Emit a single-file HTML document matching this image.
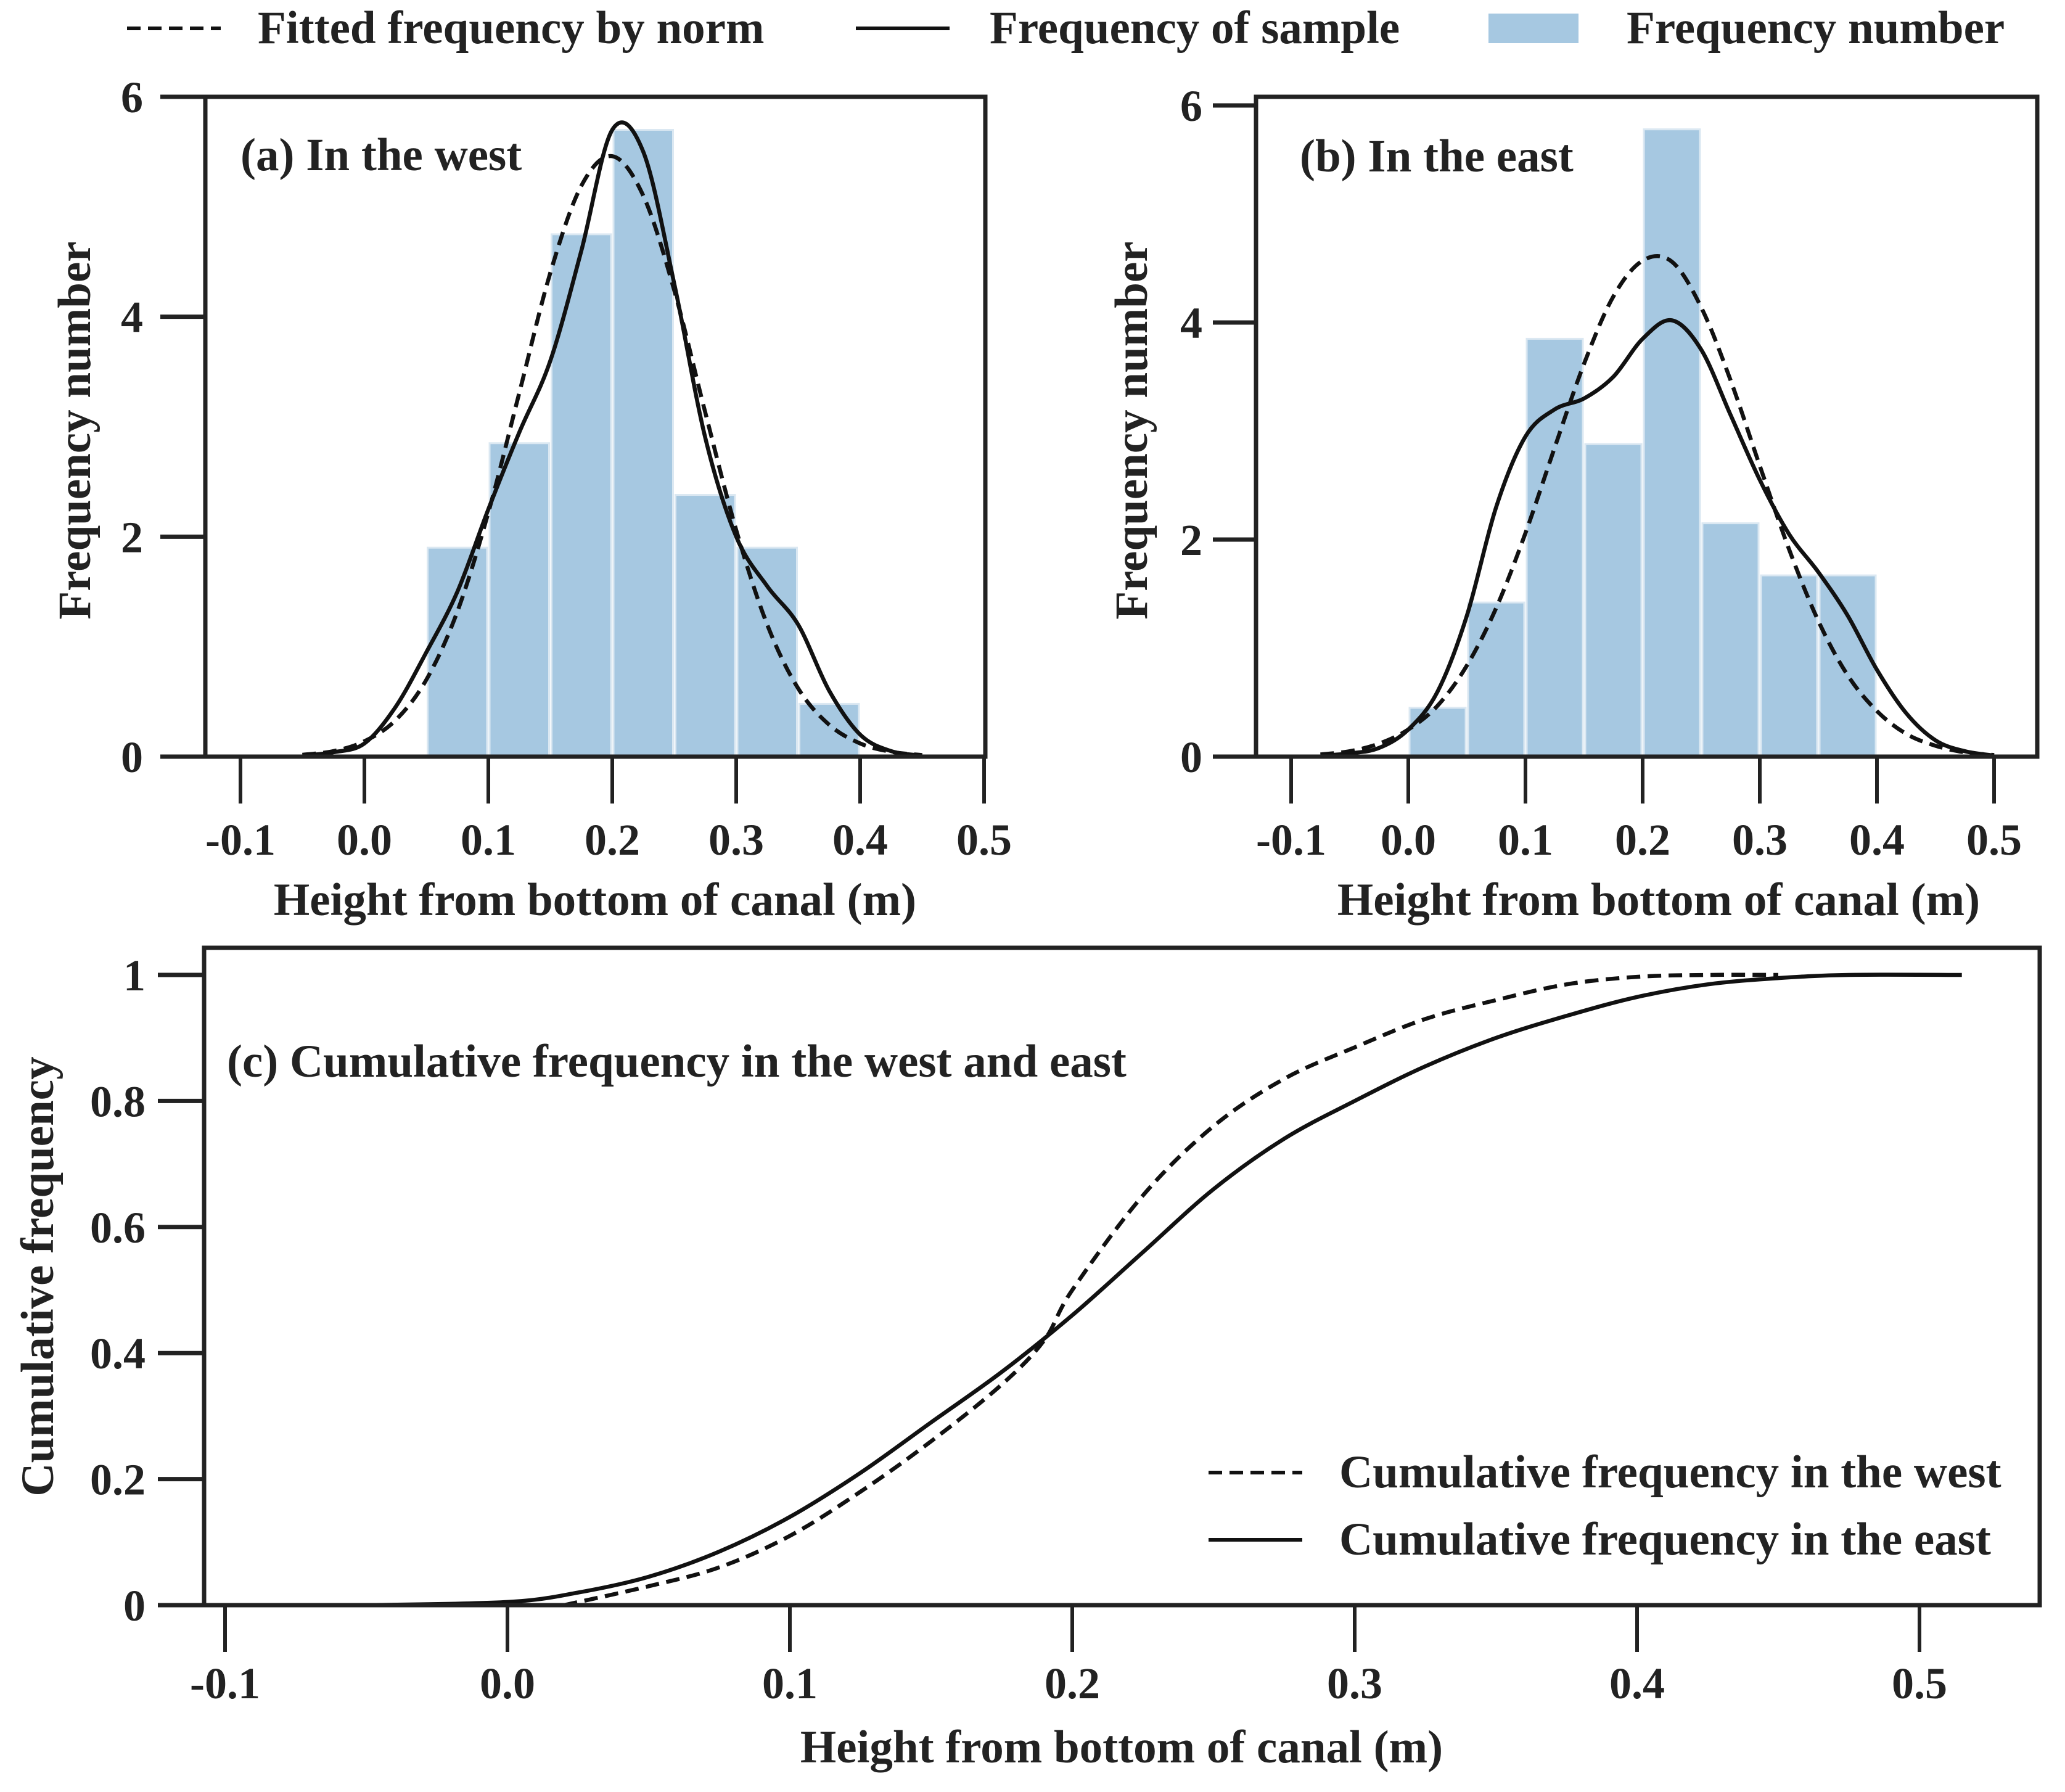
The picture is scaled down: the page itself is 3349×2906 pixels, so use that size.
<!DOCTYPE html>
<html><head><meta charset="utf-8">
<style>
html,body{margin:0;padding:0;background:#fff;}
svg{display:block;font-family:"Liberation Serif",serif;font-weight:bold;}
</style></head>
<body>
<svg id="chart" width="3349" height="2906" viewBox="0 0 3349 2906" xmlns="http://www.w3.org/2000/svg">
<g fill="#222" font-size="75">
  <line x1="206" y1="46" x2="358" y2="46" stroke="#111" stroke-width="6" stroke-dasharray="22,12"/>
  <text x="418" y="70">Fitted frequency by norm</text>
  <line x1="1388" y1="46" x2="1540" y2="46" stroke="#111" stroke-width="6"/>
  <text x="1605" y="70">Frequency of sample</text>
  <rect x="2414" y="22" width="146" height="48" fill="#a6c8e1"/>
  <text x="2638" y="70">Frequency number</text>
</g>
<g id="pa"></g>
<g id="pb"></g>
<g id="pc"></g>
</svg>
<script>
// ---- data ----
const binEdgesWest = [0.05,0.1,0.15,0.2,0.25,0.3,0.35,0.4];
const barsWest = [1.9,2.85,4.75,5.7,2.38,1.9,0.48];
const binEdgesEast = [0.0,0.05,0.1,0.15,0.2,0.25,0.3,0.35,0.4];
const barsEast = [0.45,1.42,3.85,2.88,5.78,2.15,1.67,1.67];

const fitWestX = [-0.05,-0.025,0,0.025,0.05,0.075,0.1,0.125,0.15,0.175,0.2,0.225,0.25,0.275,0.3,0.325,0.35,0.375,0.4,0.425,0.45];
const fitWestY = [0.017,0.05,0.14,0.33,0.7,1.32,2.22,3.31,4.4,5.19,5.46,5.1,4.24,3.13,2.06,1.2,0.62,0.29,0.12,0.044,0.014];
const kdeWestX = [-0.05,-0.025,0,0.025,0.05,0.075,0.1,0.125,0.15,0.175,0.2,0.225,0.25,0.275,0.3,0.325,0.35,0.375,0.4,0.425,0.45];
const kdeWestY = [0.01,0.04,0.12,0.45,0.95,1.5,2.25,2.95,3.6,4.6,5.7,5.5,4.3,2.9,2.0,1.55,1.2,0.6,0.2,0.05,0.01];

const fitEastX = [-0.075,-0.05,-0.025,0,0.025,0.05,0.075,0.1,0.125,0.15,0.175,0.2,0.225,0.25,0.275,0.3,0.325,0.35,0.375,0.4,0.425,0.45,0.475,0.5];
const fitEastY = [0.02,0.05,0.12,0.25,0.47,0.84,1.37,2.06,2.85,3.62,4.24,4.57,4.56,4.14,3.47,2.68,1.91,1.25,0.75,0.42,0.21,0.1,0.04,0.015];
const kdeEastX = [-0.075,-0.05,-0.025,0,0.025,0.05,0.075,0.1,0.125,0.15,0.175,0.2,0.225,0.25,0.275,0.3,0.325,0.35,0.375,0.4,0.425,0.45,0.475,0.5];
const kdeEastY = [0.01,0.03,0.08,0.25,0.6,1.3,2.3,2.95,3.2,3.3,3.5,3.85,4.02,3.75,3.15,2.55,2.05,1.7,1.3,0.8,0.4,0.15,0.05,0.01];

const cdfWestX = [0.02,0.05,0.075,0.1,0.125,0.15,0.175,0.19,0.2,0.225,0.25,0.275,0.3,0.325,0.35,0.375,0.4,0.425,0.45];
const cdfWestY = [0,0.03,0.06,0.11,0.18,0.26,0.35,0.42,0.5,0.65,0.76,0.835,0.885,0.93,0.96,0.985,0.997,1.0,1.0];
const cdfEastX = [-0.05,0,0.025,0.05,0.075,0.1,0.125,0.15,0.175,0.2,0.225,0.25,0.275,0.3,0.325,0.35,0.375,0.4,0.425,0.45,0.475,0.515];
const cdfEastY = [0,0.005,0.02,0.045,0.085,0.14,0.21,0.29,0.37,0.46,0.56,0.66,0.74,0.8,0.855,0.9,0.935,0.965,0.985,0.995,1.0,1.0];

const xTickVals = [-0.1,0.0,0.1,0.2,0.3,0.4,0.5];
const xTickLabels = ["-0.1","0.0","0.1","0.2","0.3","0.4","0.5"];
const histYTicks = [0,2,4,6];
const histYLabels = ["0","2","4","6"];
const cdfYTicks = [0,0.2,0.4,0.6,0.8,1];
const cdfYLabels = ["0","0.2","0.4","0.6","0.8","1"];

// ---- helpers ----
const NS = "http://www.w3.org/2000/svg";
function mk(parent, tag, attrs){
  const e = document.createElementNS(NS, tag);
  for (const k in attrs) e.setAttribute(k, attrs[k]);
  parent.appendChild(e);
  return e;
}
function linScale(d0,d1,r0,r1){ return v => r0 + (v-d0)/(d1-d0)*(r1-r0); }
function smoothPath(xs, ys, sx, sy){
  const p = xs.map((x,i)=>[sx(x), sy(ys[i])]);
  let d = "M"+p[0][0].toFixed(1)+","+p[0][1].toFixed(1);
  for (let i=0;i<p.length-1;i++){
    const p0=p[Math.max(0,i-1)], p1=p[i], p2=p[i+1], p3=p[Math.min(p.length-1,i+2)];
    const c1=[p1[0]+(p2[0]-p0[0])/6, p1[1]+(p2[1]-p0[1])/6];
    const c2=[p2[0]-(p3[0]-p1[0])/6, p2[1]-(p3[1]-p1[1])/6];
    d += " C"+c1[0].toFixed(1)+","+c1[1].toFixed(1)+" "+c2[0].toFixed(1)+","+c2[1].toFixed(1)+" "+p2[0].toFixed(1)+","+p2[1].toFixed(1);
  }
  return d;
}

function drawPanel(g, cfg){
  const sx = linScale(cfg.x0, cfg.x1, cfg.xa, cfg.xb);
  const sy = linScale(cfg.y0v, cfg.y1v, cfg.B, cfg.yTopTick);
  if (cfg.bars){
    const bg = mk(g,'g',{});
    
    
    cfg.bars.forEach((v,i)=>{
      const x0=sx(cfg.edges[i]), x1=sx(cfg.edges[i+1]);
      const r = mk(bg,'rect',{x:x0+2,y:sy(v),width:x1-x0-4,height:sy(0)-sy(v),fill:'#a6c8e1',stroke:'#dbe8f2','stroke-width':3});
      
      
    });
  }
  cfg.curves.forEach(c=>{
    const p = mk(g,'path',{d:smoothPath(c.xs,c.ys,sx,sy),fill:'none',stroke:'#111','stroke-width':6.5,'stroke-dasharray':c.dash?'22,12':'none','stroke-linejoin':'round'});
    
    
  });
  const fr = mk(g,'rect',{x:cfg.L,y:cfg.T,width:cfg.R-cfg.L,height:cfg.B-cfg.T,fill:'none',stroke:'#222','stroke-width':7});
  
  
  const xa = mk(g,'g',{});
  
  
  xTickVals.forEach((v,i)=>{
    const x = sx(v);
    mk(xa,'line',{x1:x,y1:cfg.B,x2:x,y2:cfg.B+cfg.tickLen,stroke:'#222','stroke-width':6});
    const t = mk(xa,'text',{x:x,y:cfg.xLabY,'text-anchor':'middle','font-size':72,fill:'#222'});
    t.textContent = xTickLabels[i];
    
    
  });
  const ya = mk(g,'g',{});
  
  
  mk(ya,'line',{x1:cfg.L-cfg.yTickLen,y1:cfg.B,x2:cfg.L,y2:cfg.B,stroke:'#222','stroke-width':7});
  cfg.yTicks.forEach((v,i)=>{
    const y = sy(v);
    mk(ya,'line',{x1:cfg.L-cfg.yTickLen,y1:y,x2:cfg.L,y2:y,stroke:'#222','stroke-width':7});
    const t = mk(ya,'text',{x:cfg.yLabX,y:y+25,'text-anchor':'end','font-size':72,fill:'#222'});
    t.textContent = cfg.yLabels[i];
    
    
  });
  const xt = mk(g,'text',{x:cfg.xTitleX,y:cfg.xTitleY,'text-anchor':'middle','font-size':75,fill:'#222'});
  xt.textContent='Height from bottom of canal (m)';
  
  
  const yt = mk(g,'text',{x:0,y:0,'text-anchor':'middle','font-size':75,fill:'#222',transform:'translate('+cfg.yTitleX+','+cfg.yTitleY+') rotate(-90)'});
  yt.textContent=cfg.yTitle;
  
  
  const pt = mk(g,'text',{x:cfg.titleX,y:cfg.titleY,'font-size':75,fill:'#222'});
  pt.textContent=cfg.title;
  
  
}

drawPanel(document.getElementById('pa'),{
  x0:-0.1,x1:0.0,xa:390,xb:591,L:333,R:1598,y0v:0,y1v:6,B:1227,yTopTick:157,T:157,
  bars:barsWest,edges:binEdgesWest,
  curves:[{xs:fitWestX,ys:fitWestY,dash:true,name:'west-fitted-norm-line'},{xs:kdeWestX,ys:kdeWestY,dash:false,name:'west-sample-kde-line'}],
  tickLen:76,yTickLen:73,xLabY:1386,yTicks:histYTicks,yLabels:histYLabels,yLabX:232,
  xTitleX:965,xTitleY:1484,yTitleX:146,yTitleY:698,yTitle:'Frequency number',
  titleX:390,titleY:276,title:'(a) In the west'
});

drawPanel(document.getElementById('pb'),{
  x0:-0.1,x1:0.0,xa:2094,xb:2284,L:2037,R:3304,y0v:0,y1v:6,B:1227,yTopTick:171,T:157,
  bars:barsEast,edges:binEdgesEast,
  curves:[{xs:fitEastX,ys:fitEastY,dash:true,name:'east-fitted-norm-line'},{xs:kdeEastX,ys:kdeEastY,dash:false,name:'east-sample-kde-line'}],
  tickLen:76,yTickLen:70,xLabY:1386,yTicks:histYTicks,yLabels:histYLabels,yLabX:1950,
  xTitleX:2690,xTitleY:1484,yTitleX:1860,yTitleY:698,yTitle:'Frequency number',
  titleX:2108,titleY:278,title:'(b) In the east'
});

drawPanel(document.getElementById('pc'),{
  x0:-0.1,x1:0.0,xa:365,xb:823,L:331,R:3308,y0v:0,y1v:1,B:2603,yTopTick:1581,T:1537,
  bars:null,
  curves:[{xs:cdfWestX,ys:cdfWestY,dash:true,name:'cdf-west-line'},{xs:cdfEastX,ys:cdfEastY,dash:false,name:'cdf-east-line'}],
  tickLen:76,yTickLen:75,xLabY:2754,yTicks:cdfYTicks,yLabels:cdfYLabels,yLabX:236,
  xTitleX:1819,xTitleY:2858,yTitleX:86,yTitleY:2070,yTitle:'Cumulative frequency',
  titleX:368,titleY:1746,title:'(c) Cumulative frequency in the west and east'
});

(function(){
  const g = document.getElementById('pc');
  const lg = mk(g,'g',{});
  
  
  mk(lg,'line',{x1:1960,y1:2388,x2:2112,y2:2388,stroke:'#111','stroke-width':6,'stroke-dasharray':'22,12'});
  const t1 = mk(lg,'text',{x:2172,y:2412,'font-size':75,fill:'#222'});
  t1.textContent='Cumulative frequency in the west';
  
  
  mk(lg,'line',{x1:1960,y1:2497,x2:2112,y2:2497,stroke:'#111','stroke-width':6});
  const t2 = mk(lg,'text',{x:2172,y:2521,'font-size':75,fill:'#222'});
  t2.textContent='Cumulative frequency in the east';
  
  
})();
</script>
</body></html>
